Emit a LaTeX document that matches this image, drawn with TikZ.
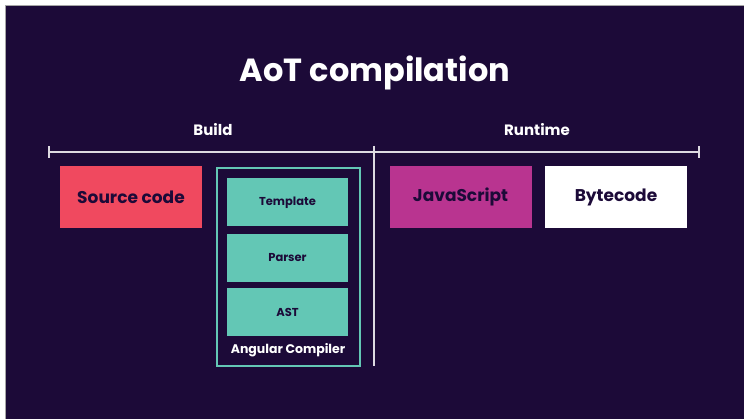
\documentclass[tikz,border=0pt]{standalone}
\usepackage{fontspec}
\setmainfont{Poppins}
\definecolor{bgdark}{HTML}{1C0A38}
\definecolor{srcred}{HTML}{F0495F}
\definecolor{jsmag}{HTML}{B93490}
\definecolor{compteal}{HTML}{63C7B5}
\begin{document}
\begin{tikzpicture}[x=1pt,y=-1pt,
    box/.style={draw=none,minimum width=142pt,minimum height=62pt,text=bgdark,
      font=\fontsize{17}{20}\selectfont\bfseries,inner sep=0pt},
    stage/.style={fill=compteal,minimum width=121pt,minimum height=48pt,text=bgdark,
      font=\fontsize{11.5}{13}\selectfont\bfseries,inner sep=0pt},
    phase/.style={text=white,font=\fontsize{15}{18}\selectfont\bfseries},
    rule/.style={draw=white!85!bgdark,line width=1.3pt}]
    \useasboundingbox (0,0) rectangle (744,419);
    \fill[white] (0,0) rectangle (744,419);
    \fill[bgdark] (5,5) rectangle (744,419);
    \draw[gray!70,line width=0.8pt] (5,419) -- (5,5) -- (744,5);
    \node[text=white,font=\fontsize{32}{38}\selectfont\bfseries] (title) at (375,73) {AoT compilation};
    \node[phase] (build) at (213,130) {Build};
    \node[phase] (runtime) at (537,130) {Runtime};
    % time line
    \coordinate (tl) at (49,152);
    \coordinate (tr) at (699,152);
    \coordinate (split) at (374,146);
    \coordinate (splitend) at (374,366);
    \draw[rule] (tl) -- (tr);
    \draw[rule] ([yshift=-6pt]tl) -- ([yshift=6pt]tl);
    \draw[rule] ([yshift=-6pt]tr) -- ([yshift=6pt]tr);
    \draw[rule] (split) -- (splitend);
    \node[box,fill=srcred] (src) at (131,197) {Source code};
    \draw[compteal,line width=1.8pt] (217,168) rectangle (360,366);
    \node[stage] (tmpl) at (287.5,202.5) {Template};
    \node[stage] (parser) at (287.5,258) {Parser};
    \node[stage] (ast) at (287.5,312.5) {AST};
    \node[text=white,font=\fontsize{12.5}{14}\selectfont\bfseries] (ngc) at (288,350) {Angular Compiler};
    \node[box,fill=jsmag] (js) at (460.5,197) {JavaScript};
    \node[box,fill=white] (bc) at (616,197) {Bytecode};
\end{tikzpicture}
\end{document}
